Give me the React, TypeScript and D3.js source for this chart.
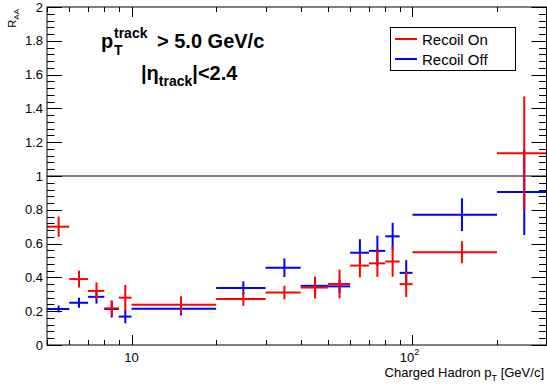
import React from "react";
import * as d3 from "d3";

// Bin edges in charged-hadron pT [GeV/c], shared by both series
const binLow = [5, 6, 7, 8, 9, 10, 20, 30, 40, 50, 60, 70, 80, 90, 100, 200];
const binHigh = [6, 7, 8, 9, 10, 20, 30, 40, 50, 60, 70, 80, 90, 100, 200, 300];

// R_AA with recoil on
const recoilOn = [0.7, 0.39, 0.32, 0.217, 0.28, 0.238, 0.272, 0.31, 0.34, 0.361, 0.47, 0.483, 0.494, 0.36, 0.549, 1.134];
const recoilOnErr = [0.06, 0.05, 0.05, 0.045, 0.075, 0.05, 0.04, 0.04, 0.065, 0.085, 0.07, 0.08, 0.09, 0.076, 0.065, 0.337];

// R_AA with recoil off
const recoilOff = [0.213, 0.25, 0.285, 0.213, 0.168, 0.215, 0.337, 0.457, 0.35, 0.347, 0.546, 0.557, 0.643, 0.427, 0.771, 0.906];
const recoilOffErr = [0.02, 0.03, 0.04, 0.05, 0.04, 0.04, 0.04, 0.055, 0.05, 0.04, 0.08, 0.09, 0.08, 0.075, 0.097, 0.255];

const yTickLabels = ["0", "0.2", "0.4", "0.6", "0.8", "1", "1.2", "1.4", "1.6", "1.8", "2"];
const xMajorTicks = [10, 100];
const xMinorTicks = [5, 6, 7, 8, 9, 20, 30, 40, 50, 60, 70, 80, 90, 200, 300];

const W = 547;
const H = 387;
const left = 47;
const right = 546.5;
const top = 7;
const bottom = 345;

const FONT = "'Liberation Sans', Arial, Helvetica, sans-serif";

export default function App() {
  const x = d3.scaleLog().domain([5, 300]).range([left, right]);
  const y = d3.scaleLinear().domain([0, 2]).range([bottom, top]);

  const yMinor = d3.range(0, 2.0001, 0.04);
  const yMajor = yTickLabels.map(Number);

  const series = (vals: number[], errs: number[], color: string) =>
    vals.map((v, i) => {
      const xc = x((binLow[i] + binHigh[i]) / 2);
      return (
        <g key={i} stroke={color} strokeWidth={2}>
          <line x1={x(binLow[i])} x2={x(binHigh[i])} y1={y(v)} y2={y(v)} />
          <line x1={xc} x2={xc} y1={y(v - errs[i])} y2={y(v + errs[i])} />
        </g>
      );
    });

  return (
    <svg
      width={W}
      height={H}
      style={{ position: "fixed", left: 0, top: 0, background: "#fff" }}
      fontFamily={FONT}
    >
      <rect x={0} y={0} width={W} height={H} fill="#fff" />

      {/* unity reference line */}
      <line x1={left} x2={right} y1={y(1)} y2={y(1)} stroke="#000" strokeWidth={1} />

      {series(recoilOff, recoilOffErr, "#0000ff")}
      {series(recoilOn, recoilOnErr, "#ff0000")}

      {/* frame */}
      <rect x={left} y={top} width={right - left} height={bottom - top} fill="none" stroke="#000" strokeWidth={1} />

      {/* y ticks, left and right */}
      {yMinor.map((v, i) => {
        const major = yMajor.some((m) => Math.abs(m - v) < 1e-6);
        const len = major ? 15 : 7.5;
        const yy = Math.round(y(v)) + 0.5;
        return (
          <g key={"yt" + i} stroke="#000" strokeWidth={1}>
            <line x1={left} x2={left + len} y1={yy} y2={yy} />
            <line x1={right} x2={right - len} y1={yy} y2={yy} />
          </g>
        );
      })}

      {/* x ticks, bottom and top */}
      {[...xMajorTicks.map((t) => [t, 10]), ...xMinorTicks.map((t) => [t, 5])].map(([t, len], i) => {
        const xx = Math.round(x(t)) + 0.5;
        return (
          <g key={"xt" + i} stroke="#000" strokeWidth={1}>
            <line x1={xx} x2={xx} y1={bottom} y2={bottom - len} />
            <line x1={xx} x2={xx} y1={top} y2={top + len} />
          </g>
        );
      })}

      {/* y tick labels */}
      {yTickLabels.map((lab) => (
        <text key={lab} x={43} y={y(Number(lab)) + 4.5} fontSize={13} textAnchor="end" fill="#000">
          {lab}
        </text>
      ))}

      {/* x tick labels */}
      <text x={x(10)} y={362} fontSize={13} textAnchor="middle" fill="#000">10</text>
      <text x={x(100) - 3} y={362} fontSize={13} textAnchor="middle" fill="#000">
        10
        <tspan fontSize={9} dy={-7}>2</tspan>
      </text>

      {/* axis titles */}
      <text x={544} y={377} fontSize={13} textAnchor="end" fill="#000">
        Charged Hadron p<tspan fontSize={9} dy={4}>T</tspan>
        <tspan dy={-4}> [GeV/c]</tspan>
      </text>
      <text transform="translate(16,9) rotate(-90)" fontSize={11} textAnchor="end" fill="#000">
        R<tspan fontSize={8} dy={3}>AA</tspan>
      </text>

      {/* selection labels */}
      <g fontWeight="bold" fill="#000">
        <text x={101} y={48} fontSize={20}>p</text>
        <text x={114} y={55} fontSize={14}>T</text>
        <text x={114} y={38} fontSize={14}>track</text>
        <text x={157} y={48} fontSize={20}>&gt; 5.0 GeV/c</text>
        <text x={141} y={80} fontSize={20}>
          |η<tspan fontSize={14} dy={6}>track</tspan>
          <tspan dy={-6}>|&lt;2.4</tspan>
        </text>
      </g>

      {/* legend */}
      <g>
        <rect x={390.5} y={27.5} width={125} height={43} fill="#fff" stroke="#000" strokeWidth={1} />
        <line x1={395} x2={417} y1={39} y2={39} stroke="#ff0000" strokeWidth={2} />
        <line x1={395} x2={417} y1={59} y2={59} stroke="#0000ff" strokeWidth={2} />
        <text x={422} y={44.5} fontSize={15} fill="#000">Recoil On</text>
        <text x={422} y={64.5} fontSize={15} fill="#000">Recoil Off</text>
      </g>
    </svg>
  );
}
